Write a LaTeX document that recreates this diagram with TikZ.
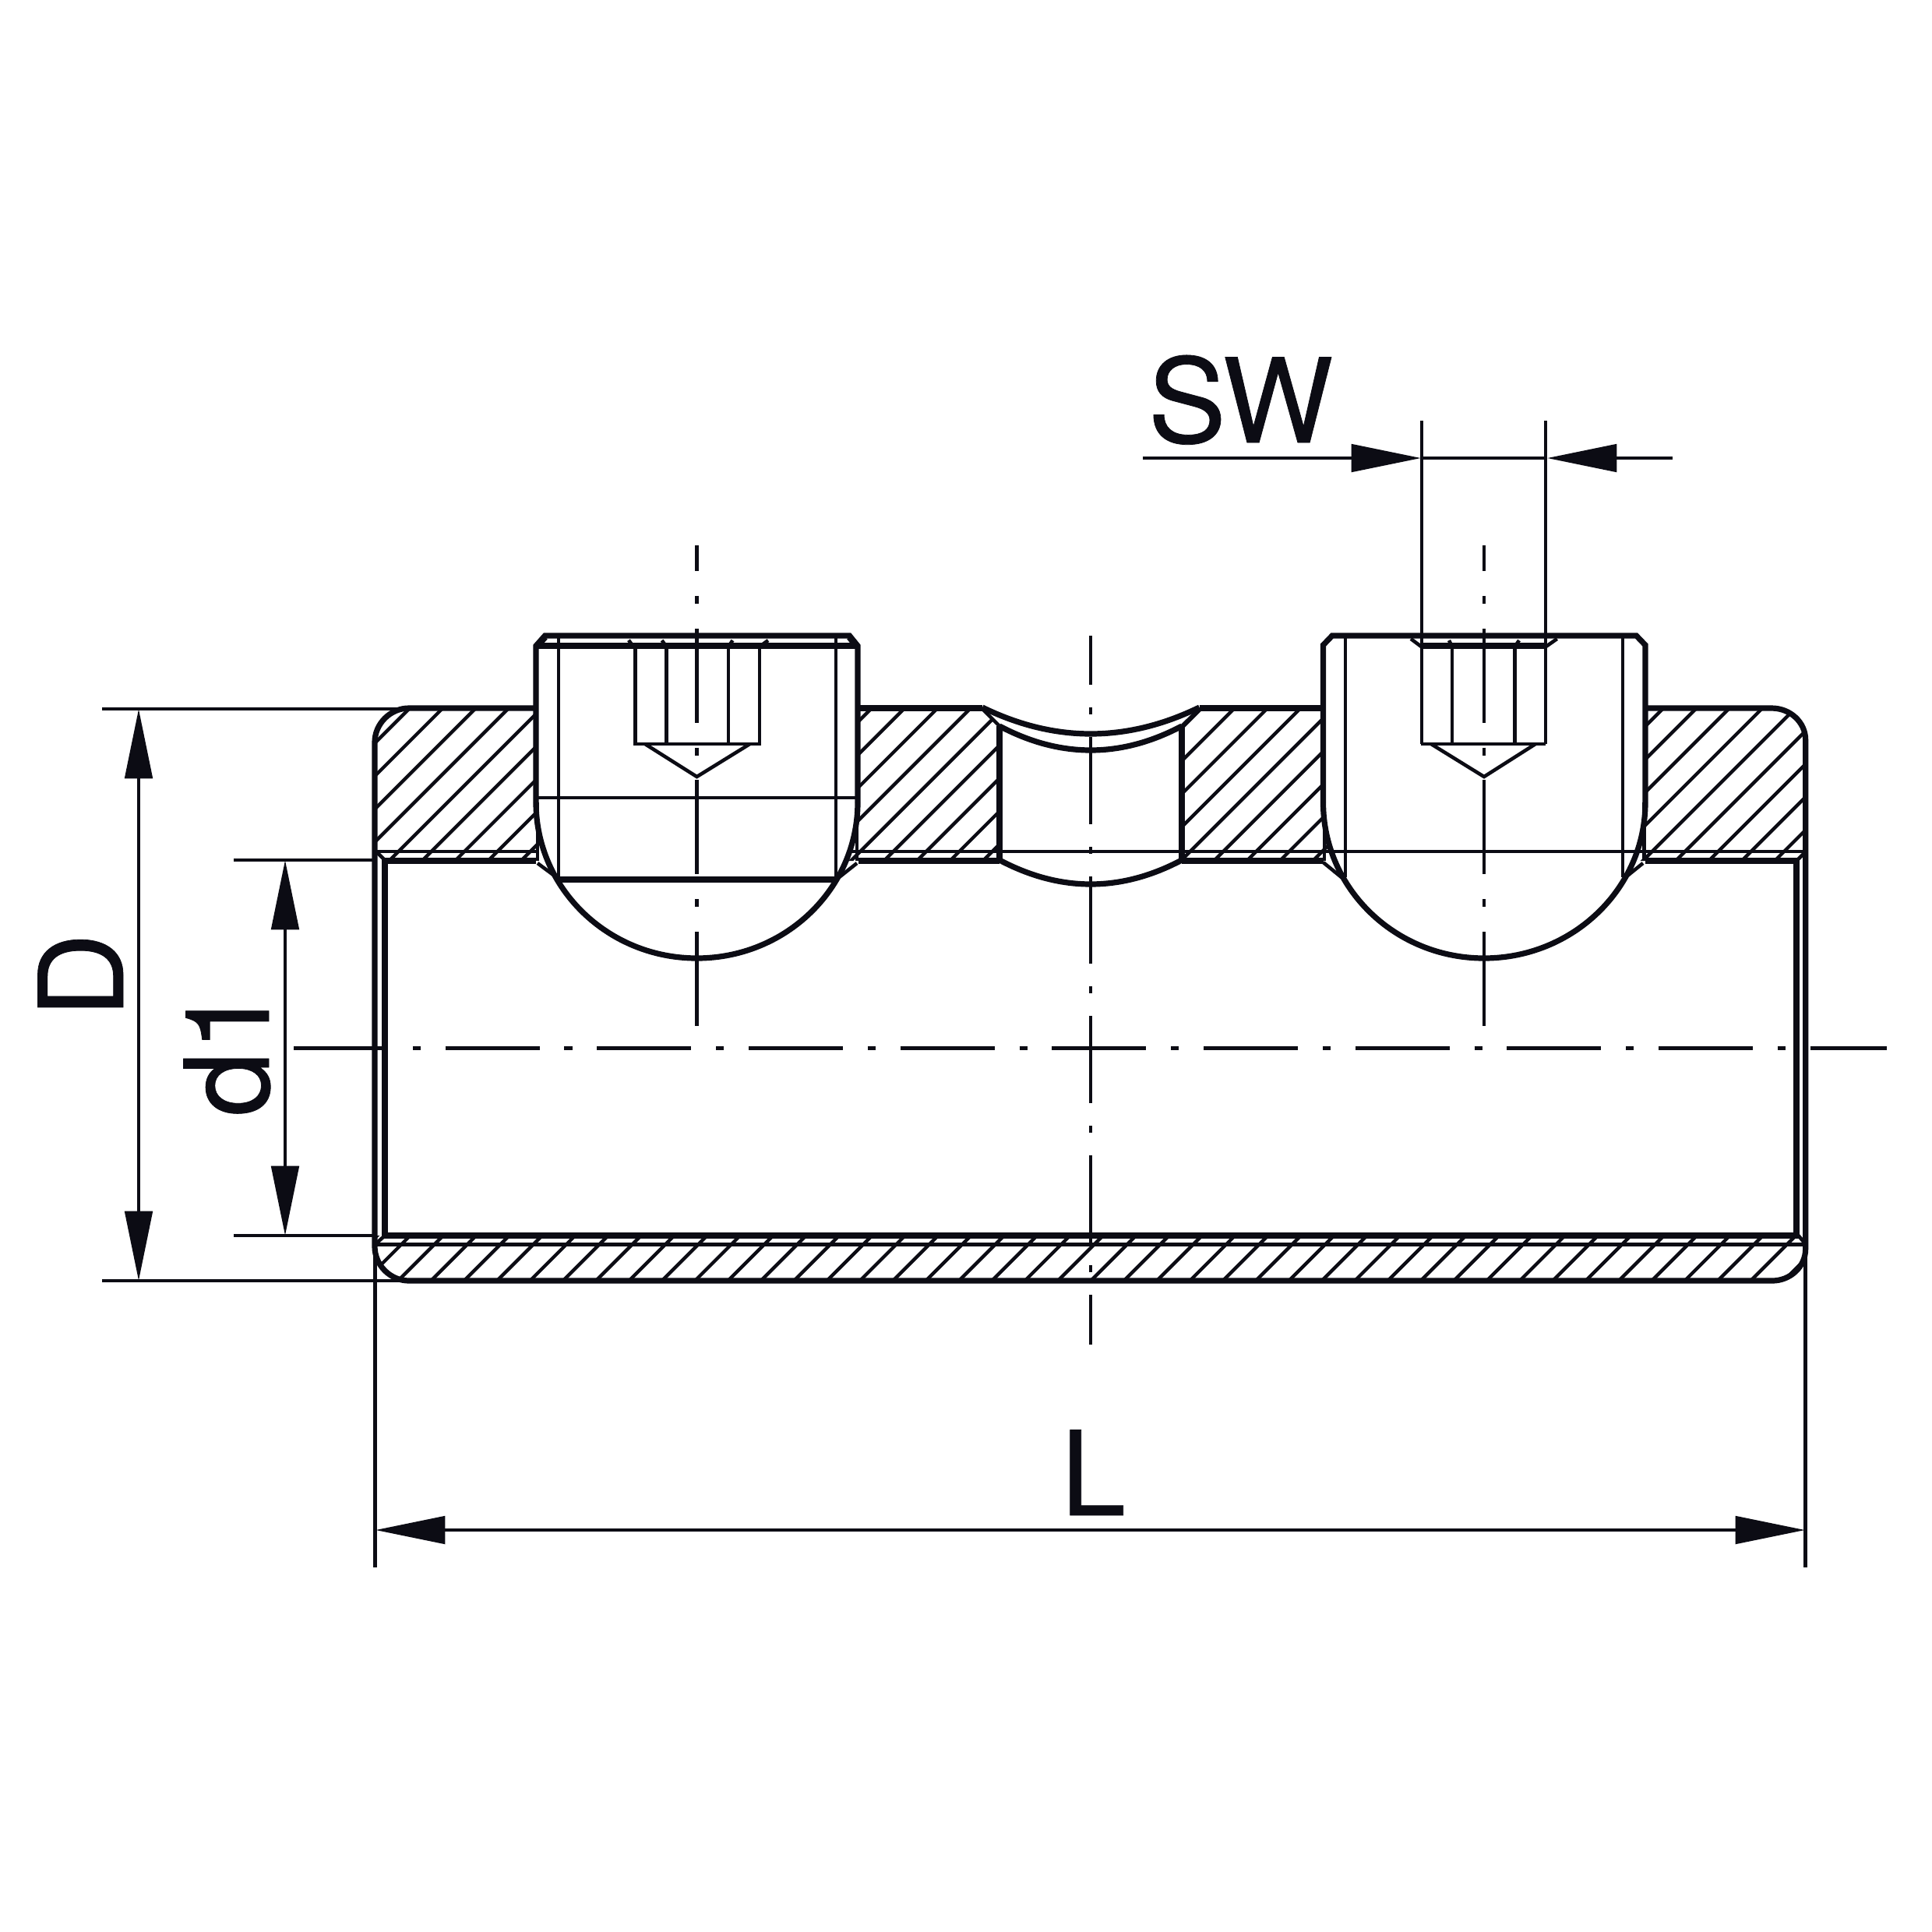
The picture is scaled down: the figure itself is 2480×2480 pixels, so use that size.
\documentclass[tikz,border=0pt]{standalone}
\usepackage{fontspec}
\newfontfamily\labelfont[FakeBold=0.5]{TeX Gyre Heros}
\usetikzlibrary{arrows.meta}
\definecolor{ink}{HTML}{0C0C14}
\tikzset{
  thin line/.style={draw=ink,line width=1.3pt},
  thick line/.style={draw=ink,line width=2.05pt,line join=miter},
  hatch line/.style={draw=ink,line width=1.25pt},
  axis long/.style={draw=ink,line width=1.3pt,dash pattern=on 34.4pt off 9.05pt on 2.85pt off 9.06pt},
  axis short/.style={draw=ink,line width=1.3pt,dash pattern=on 31.86pt off 8.25pt on 2.56pt off 8.25pt},
  dimline/.style={draw=ink,line width=1.3pt},
  dimtip/.style={-{Triangle[length=25.4pt,width=10pt,color=ink]}},
  label text/.style={inner sep=0pt,text=ink,font=\labelfont\fontsize{42.7pt}{50pt}\selectfont}
}
\begin{document}
\begin{tikzpicture}[x=0.01cm,y=-0.01cm]
\useasboundingbox (0,0) rectangle (2480,2480);
\fill[white] (0,0) rectangle (2480,2480);

% hatching
\begin{scope}
\clip
  (525,909) .. controls (501,909) and (481,929) .. (481,953) -- (481,1105) -- (703,1105) -- (691,1070) -- (688,1030) -- (688,909) -- cycle
  (1102,909) -- (1261,909) -- (1283,932) -- (1283,1105) -- (1086,1105) -- (1098.5,1070) -- (1101,1030) -- cycle
  (1539.6,909) -- (1698.5,909) -- (1698.5,1030) -- (1701.5,1070) -- (1713.5,1105) -- (1517,1105) -- (1517,932) -- cycle
  (2112,909) -- (2274,909) .. controls (2298,909) and (2317.7,927) .. (2317.7,950) -- (2317.7,1105) -- (2096,1105) -- (2109,1070) -- (2112,1030) -- cycle
  (481,1586) -- (2317.7,1586) -- (2317.7,1603) .. controls (2317.7,1626) and (2298,1644) .. (2275,1644) -- (525,1644) .. controls (501,1644) and (481,1624) .. (481,1600) -- cycle;
\foreach \k in {-1,...,60}{
  \pgfmathsetmacro\cc{1435+42.35*\k}
  \draw[hatch line] ({\cc-800},800) -- ({\cc-1700},1700);
}
\end{scope}

% body outline
\draw[thick line] (688,909) -- (525,909) .. controls (501,909) and (481,929) .. (481,953) -- (481,1600) .. controls (481,1624) and (501,1644) .. (525,1644) -- (2275,1644) .. controls (2298,1644) and (2317.7,1626) .. (2317.7,1603) -- (2317.7,950) .. controls (2317.7,927) and (2298,909) .. (2274,909) -- (2112,909);
\draw[thick line] (1102,909) -- (1261,909);
\draw[thick line] (1539.6,909) -- (1698.5,909);
\draw[thick line] (688,1105) -- (494,1105) -- (494,1586) -- (2306,1586) -- (2306,1105) -- (2112,1105);
\draw[thick line] (1102,1105) -- (1283,1105);
\draw[thick line] (1517,1105) -- (1698.5,1105);
\draw[thin line] (481,1093) -- (690,1093);
\draw[thin line] (1092,1093) -- (2317.7,1093);
\draw[thin line] (481,1597.7) -- (2317.7,1597.7);
\draw[thin line] (483,1093) -- (495,1105);
\draw[thin line] (2304,1107) -- (2316,1095);
\draw[thin line] (494,1586) -- (482,1597);
\draw[thin line] (2306,1583) -- (2317.7,1597);

% middle notch
\draw[thick line] (1261,908) .. controls (1353.7,953.3) and (1446.3,953.3) .. (1539.6,908);
\draw[thick line] (1283,932) .. controls (1361,973.3) and (1439,973.3) .. (1517,932);
\draw[thick line] (1283,1104) .. controls (1361,1145.3) and (1439,1145.3) .. (1517,1104);
\draw[thin line] (1261,910) -- (1283,932);
\draw[thin line] (1539.6,910) -- (1517,932);
\draw[thick line] (1283,932) -- (1283,1105);
\draw[thick line] (1517,932) -- (1517,1105);

% left screw
\draw[thick line] (688,1030) -- (688,829) -- (699.5,816) -- (1090.5,816) -- (1101,829) -- (1101,1030);
\draw[thick line] (688,829) -- (1101,829);
\draw[thick line] (688,1030) .. controls (688,1140.5) and (780.5,1230) .. (894.5,1230) .. controls (1008.5,1230) and (1101,1140.5) .. (1101,1030);
\draw[thin line] (717,816) -- (717,1129);
\draw[thin line] (1073,816) -- (1073,1129);
\draw[thick line] (717,1129) -- (1073,1129);
\draw[thin line] (688,1024) -- (1101,1024);
\draw[thin line] (690,1030) -- (690,1105);
\draw[thin line] (1100,1030) -- (1100,1105);
\draw[thin line] (690,1108) -- (715.5,1127);
\draw[thin line] (1100,1108) -- (1076,1127);
\draw[thin line] (815.6,829) -- (815.6,955) -- (975,955) -- (975,829);
\draw[thin line] (855.5,829) -- (855.5,955);
\draw[thin line] (935,829) -- (935,955);
\draw[thin line] (828,955) -- (894.5,997) -- (962.5,955);
\draw[thin line] (807,821.7) -- (813,830);
\draw[thin line] (849.6,822) -- (855.5,830);
\draw[thin line] (940.5,822) -- (935,830);
\draw[thin line] (986,822) -- (975,830);
\draw[thin line] (692,829) -- (701,819);
\draw[thin line] (1097,829) -- (1089,819);

% right screw
\draw[thick line] (1698.5,1030) -- (1698.5,828) -- (1710,816) -- (2100.5,816) -- (2112,828) -- (2112,1030);
\draw[thick line] (1698.5,1030) .. controls (1698.5,1140.5) and (1791,1230) .. (1905,1230) .. controls (2019,1230) and (2112,1140.5) .. (2112,1030);
\draw[thin line] (1727,816) -- (1727,1126);
\draw[thin line] (2083,816) -- (2083,1126);
\draw[thin line] (1700,1030) -- (1700,1105);
\draw[thin line] (2110.5,1030) -- (2110.5,1105);
\draw[thin line] (1698.6,1107) -- (1723,1127);
\draw[thin line] (2109,1108) -- (2085.5,1127);
\draw[thick line] (1824.4,829) -- (1984.4,829);
\draw[thin line] (1824.4,955) -- (1984.4,955);
\draw[thin line] (1864,829) -- (1864,955);
\draw[thin line] (1944.5,829) -- (1944.5,955);
\draw[thin line] (1837,955) -- (1905,997) -- (1971,955);
\draw[thin line] (1811,820) -- (1824.4,830);
\draw[thin line] (1998.7,820) -- (1984.4,830);
\draw[thin line] (1860,822) -- (1864,830);
\draw[thin line] (1950,822) -- (1944.5,830);

% centre lines
\draw[axis long] (377,1345.7) -- (2422,1345.7);
\draw[axis long,dash phase=25pt] (894.5,700) -- (894.5,1317);
\draw[axis long,dash phase=25pt] (1905,700) -- (1905,1317);
\draw[axis short,dash phase=13.94pt] (1400,816) -- (1400,1726);

% dimension helpers
\coordinate (dTopA) at (131,910);
\coordinate (dTopB) at (525,910);
\coordinate (dBotA) at (131,1644);
\coordinate (dBotB) at (525,1644);
\coordinate (iTopA) at (300,1104);
\coordinate (iTopB) at (481,1104);
\coordinate (iBotA) at (300,1586);
\coordinate (iBotB) at (481,1586);
\coordinate (lLeftA) at (481.7,1600);
\coordinate (lLeftB) at (481.7,2012);
\coordinate (lRightA) at (2317.7,1600);
\coordinate (lRightB) at (2317.7,2012);
\coordinate (swLeftA) at (1825,540);
\coordinate (swLeftB) at (1825,955);
\coordinate (swRightA) at (1984,540);
\coordinate (swRightB) at (1984,955);
\foreach \a/\b in {dTopA/dTopB,dBotA/dBotB,iTopA/iTopB,iBotA/iBotB,lLeftA/lLeftB,lRightA/lRightB,swLeftA/swLeftB,swRightA/swRightB}
  \draw[thin line] (\a) -- (\b);

% dimensions
\coordinate (dimDa) at (178,910);
\coordinate (dimDb) at (178,1644);
\draw[dimline,{Triangle[length=25.4pt,width=10pt,color=ink]}-{Triangle[length=25.4pt,width=10pt,color=ink]}] (dimDa) -- (dimDb);
\coordinate (dimIa) at (366,1104);
\coordinate (dimIb) at (366,1586);
\draw[dimline,{Triangle[length=25.4pt,width=10pt,color=ink]}-{Triangle[length=25.4pt,width=10pt,color=ink]}] (dimIa) -- (dimIb);
\coordinate (dimLa) at (482,1964);
\coordinate (dimLb) at (2317,1964);
\draw[dimline,{Triangle[length=25.4pt,width=10pt,color=ink]}-{Triangle[length=25.4pt,width=10pt,color=ink]}] (dimLa) -- (dimLb);
\coordinate (swFreeL) at (1467,588);
\coordinate (swTipL) at (1824,588);
\coordinate (swTipR) at (1986,588);
\coordinate (swFreeR) at (2147,588);
\draw[dimline,dimtip] (swFreeL) -- (swTipL);
\draw[dimline,dimtip] (swFreeR) -- (swTipR);
\draw[dimline] (swTipL) -- (swTipR);

% labels
\node[label text,anchor=base west] (labelSW) at (1473,568) {SW};
\node[label text,anchor=base west] (labelL) at (1361,1945) {L};
\node[label text,anchor=base west,rotate=90] (labelD) at (158,1307) {D};
\node[label text,anchor=base west,rotate=90] (labelD1) at (345,1434) {d1};
\end{tikzpicture}
\end{document}
